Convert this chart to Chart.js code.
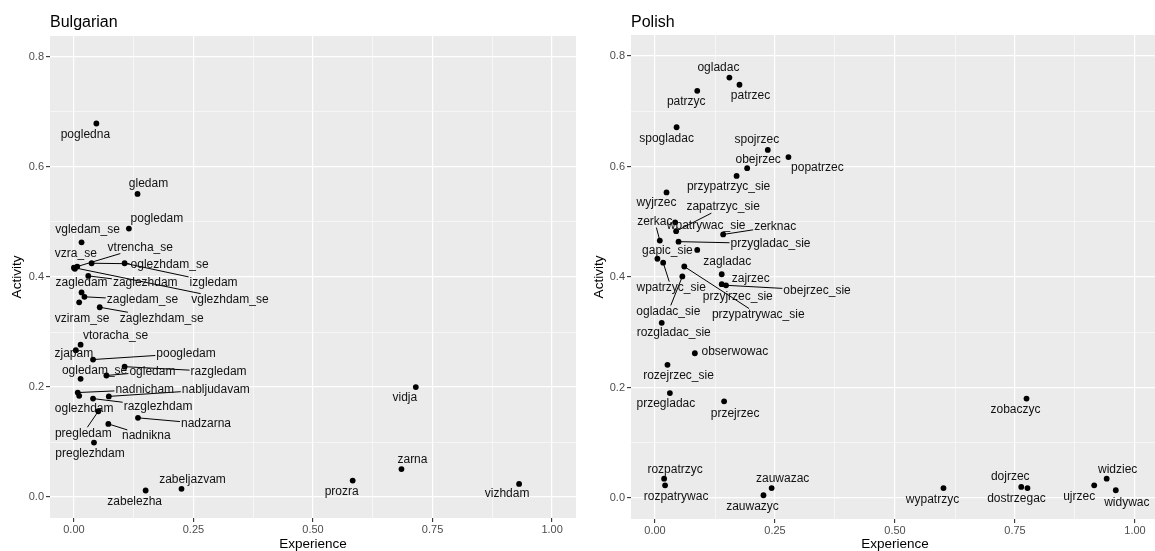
<!DOCTYPE html>
<html>
<head>
<meta charset="utf-8">
<script src="https://cdn.jsdelivr.net/npm/chart.js@4.4.1/dist/chart.umd.min.js"></script>
<style>
  html, body { margin: 0; padding: 0; background: #ffffff; overflow: hidden; width: 1155px; height: 551px; }
  canvas { position: absolute; top: 0; }
  #bgChart { left: 0; }
  #plChart { left: 582px; }
</style>
</head>
<body>
<canvas id="bgChart" width="580" height="551"></canvas>
<canvas id="plChart" width="580" height="551"></canvas>
<script>
// ---- axis ticks ----
const xTickValues = [0, 0.25, 0.5, 0.75, 1];
const xTickLabels = ['0.00', '0.25', '0.50', '0.75', '1.00'];
const yTickValues = [0, 0.2, 0.4, 0.6, 0.8];
const yTickLabels = ['0.0', '0.2', '0.4', '0.6', '0.8'];

// ---- Bulgarian verbs ----
const bulgarianVerbs = [
  'pogledna', 'gledam', 'pogledam', 'vgledam_se', 'vtrencha_se', 'vzra_se', 'vglezhdam_se',
  'oglezhdam_se', 'izgledam', 'zaglezhdam', 'zagledam', 'zagledam_se', 'vziram_se', 'zaglezhdam_se',
  'vtoracha_se', 'zjapam', 'poogledam', 'razgledam', 'ogledam', 'ogledam_se', 'nadnicham',
  'oglezhdam', 'nabljudavam', 'razglezhdam', 'pregledam', 'nadzarna', 'nadnikna', 'preglezhdam',
  'vidja', 'zarna', 'prozra', 'vizhdam', 'zabeljazvam', 'zabelezha'
];
const bulgarianExperience = [
  0.047, 0.133, 0.115, 0.016, 0.007, 0.002, 0.000,
  0.037, 0.106, 0.030, 0.016, 0.022, 0.011, 0.054,
  0.014, 0.004, 0.040, 0.106, 0.068, 0.014, 0.008,
  0.011, 0.073, 0.040, 0.051, 0.134, 0.072, 0.042,
  0.715, 0.685, 0.583, 0.931, 0.225, 0.150
];
const bulgarianActivity = [
  0.679, 0.551, 0.488, 0.463, 0.419, 0.415, 0.417,
  0.425, 0.425, 0.402, 0.372, 0.364, 0.354, 0.345,
  0.277, 0.267, 0.250, 0.237, 0.221, 0.215, 0.190,
  0.184, 0.183, 0.179, 0.156, 0.144, 0.133, 0.099,
  0.200, 0.051, 0.030, 0.024, 0.015, 0.012
];

// ---- Polish verbs ----
const polishVerbs = [
  'ogladac', 'patrzec', 'patrzyc', 'spogladac', 'spojrzec', 'popatrzec', 'obejrzec',
  'przypatrzyc_sie', 'wyjrzec', 'wpatrywac_sie', 'zapatrzyc_sie', 'zerkac', 'przygladac_sie',
  'zerknac', 'gapic_sie', 'zagladac', 'wpatrzyc_sie', 'przypatrywac_sie', 'ogladac_sie',
  'zajrzec', 'przyjrzec_sie', 'obejrzec_sie', 'rozgladac_sie', 'obserwowac', 'rozejrzec_sie',
  'przegladac', 'przejrzec', 'rozpatrzyc', 'rozpatrywac', 'zauwazac', 'zauwazyc',
  'zobaczyc', 'wypatrzyc', 'dojrzec', 'dostrzegac', 'ujrzec', 'widziec', 'widywac'
];
const polishExperience = [
  0.155, 0.176, 0.088, 0.045, 0.235, 0.278, 0.192,
  0.170, 0.024, 0.042, 0.044, 0.010, 0.049,
  0.142, 0.005, 0.088, 0.017, 0.061, 0.057,
  0.139, 0.139, 0.148, 0.014, 0.083, 0.026,
  0.031, 0.144, 0.019, 0.021, 0.243, 0.226,
  0.774, 0.601, 0.763, 0.776, 0.915, 0.941, 0.960
];
const polishActivity = [
  0.761, 0.748, 0.737, 0.671, 0.630, 0.617, 0.597,
  0.583, 0.553, 0.499, 0.483, 0.466, 0.464,
  0.477, 0.433, 0.449, 0.426, 0.419, 0.401,
  0.405, 0.387, 0.385, 0.317, 0.262, 0.241,
  0.190, 0.175, 0.035, 0.023, 0.018, 0.005,
  0.180, 0.018, 0.020, 0.018, 0.023, 0.035, 0.014
];

// ---- repelled label placement: pixel offset of each label centre from its point ----
const bulgarianLabelOffsets = {
  pogledna: [-11, 11], gledam: [11, -10], pogledam: [28, -10], vgledam_se: [6, -13],
  vtrencha_se: [63, -19], vzra_se: [1, -15], vglezhdam_se: [156, 32], oglezhdam_se: [78, 1],
  izgledam: [89, 19], zaglezhdam: [57, 7], zagledam: [0, -10], zagledam_se: [58, 3],
  vziram_se: [3, 16], zaglezhdam_se: [62, 11], vtoracha_se: [35, -9], zjapam: [-2, 4],
  poogledam: [93, -6], razgledam: [94, 5], ogledam: [46, -4], ogledam_se: [14, -8],
  nadnicham: [67, -3], oglezhdam: [5, 13], nabljudavam: [107, -7], razglezhdam: [65, 8],
  pregledam: [-15, 22], nadzarna: [68, 6], nadnikna: [38, 12], preglezhdam: [-4, 11],
  vidja: [-11, 11], zarna: [11, -9], prozra: [-11, 11], vizhdam: [-12, 10],
  zabeljazvam: [11, -9], zabelezha: [-11, 11]
};
const polishLabelOffsets = {
  ogladac: [-11, -10], patrzec: [11, 11], patrzyc: [-11, 11], spogladac: [-10, 11],
  spojrzec: [-11, -10], popatrzec: [29, 11], obejrzec: [11, -8], przypatrzyc_sie: [-8, 11],
  wyjrzec: [-10, 10], wpatrywac_sie: [31, 3], zapatrzyc_sie: [47, -24], zerkac: [-5, -19],
  przygladac_sie: [92, 2], zerknac: [52, -8], gapic_sie: [10, -8], zagladac: [30, 12],
  wpatrzyc_sie: [8, 25], przypatrywac_sie: [74, 48], ogladac_sie: [-14, 35], zajrzec: [29, 4],
  przyjrzec_sie: [16, 13], obejrzec_sie: [91, 5], rozgladac_sie: [12, 10], obserwowac: [40, -2],
  rozejrzec_sie: [11, 11], przegladac: [-4, 11], przejrzec: [11, 12], rozpatrzyc: [11, -9],
  rozpatrywac: [11, 11], zauwazac: [11, -9], zauwazyc: [-11, 11], zobaczyc: [-11, 11],
  wypatrzyc: [-11, 12], dojrzec: [-11, -10], dostrzegac: [-11, 11], ujrzec: [-15, 11],
  widziec: [11, -9], widywac: [11, 12]
};

const FONT = '"Liberation Sans", Arial, Helvetica, sans-serif';
Chart.defaults.font.family = FONT;

// major breaks plus the minor ones half-way between them
function withMinors(majors) {
  const out = [];
  majors.forEach((v, i) => {
    out.push(v);
    if (i < majors.length - 1) out.push((v + majors[i + 1]) / 2);
  });
  return out;
}
function majorIndex(value, majors) {
  return majors.findIndex(t => Math.abs(t - value) < 1e-9);
}

// grey panel, title, repelled labels with leader segments
const panelDecor = {
  id: 'panelDecor',
  beforeDraw(chart, args, opts) {
    const { ctx, chartArea: a } = chart;
    ctx.save();
    ctx.fillStyle = '#EBEBEB';
    ctx.fillRect(a.left, a.top, a.right - a.left, a.bottom - a.top);
    ctx.fillStyle = '#000000';
    ctx.font = '16px ' + FONT;
    ctx.textAlign = 'left';
    ctx.textBaseline = 'alphabetic';
    ctx.fillText(opts.title, a.left, 26.5);
    ctx.restore();
  },
  afterDatasetsDraw(chart, args, opts) {
    const { ctx } = chart;
    const meta = chart.getDatasetMeta(0);
    ctx.save();
    ctx.font = '12px ' + FONT;
    ctx.textAlign = 'center';
    ctx.textBaseline = 'middle';
    const items = opts.names.map((name, i) => {
      const el = meta.data[i];
      const [dx, dy] = opts.offsets[name] || [0, 10];
      return { name, px: el.x, py: el.y, dx, dy, hw: ctx.measureText(name).width / 2 + 1, hh: 6 };
    });
    // leader segments
    ctx.strokeStyle = '#000000';
    ctx.lineWidth = 1;
    items.forEach(it => {
      const gx = Math.max(0, Math.abs(it.dx) - it.hw);
      const gy = Math.max(0, Math.abs(it.dy) - it.hh);
      if (Math.hypot(gx, gy) > 10) {
        const t = Math.min(it.hw / Math.max(Math.abs(it.dx), 1e-9), it.hh / Math.max(Math.abs(it.dy), 1e-9));
        const ex = it.px + it.dx - it.dx * t;
        const ey = it.py + it.dy - it.dy * t;
        ctx.beginPath();
        ctx.moveTo(it.px, it.py);
        ctx.lineTo(ex, ey);
        ctx.stroke();
      }
    });
    // label text
    ctx.fillStyle = '#111111';
    items.forEach(it => ctx.fillText(it.name, it.px + it.dx, it.py + it.dy));
    ctx.restore();
  }
};

function makePanel(canvasId, title, names, xs, ys, offsets, geom) {
  const xGrid = withMinors(xTickValues);
  const yGrid = withMinors(yTickValues);
  const gridFor = majors => ({
    color: '#FFFFFF',
    lineWidth: c => (c.tick && majorIndex(c.tick.value, majors) >= 0) ? 1.2 : 0.55,
    drawTicks: true,
    tickLength: 4,
    tickWidth: 1.1,
    tickColor: c => (c.tick && majorIndex(c.tick.value, majors) >= 0) ? '#333333' : 'rgba(0,0,0,0)'
  });
  return new Chart(document.getElementById(canvasId), {
    type: 'scatter',
    data: {
      datasets: [{
        data: xs.map((x, i) => ({ x, y: ys[i] })),
        pointRadius: 2.9,
        pointHoverRadius: 2.9,
        pointBackgroundColor: '#000000',
        pointBorderWidth: 0,
        borderColor: '#000000'
      }]
    },
    options: {
      responsive: false,
      animation: false,
      events: [],
      layout: { padding: { top: geom.top, left: 0, right: geom.right, bottom: 0 } },
      plugins: {
        legend: { display: false },
        tooltip: { enabled: false },
        panelDecor: { title, names, offsets }
      },
      scales: {
        x: {
          type: 'linear',
          min: -0.05, max: 1.05,
          afterBuildTicks: s => { s.ticks = xGrid.map(v => ({ value: v })); },
          afterFit: s => { s.height = geom.xAxisHeight; },
          border: { display: false },
          grid: gridFor(xTickValues),
          ticks: {
            autoSkip: false, maxRotation: 0, padding: 2,
            color: '#4D4D4D',
            font: { size: 11, lineHeight: 1 },
            callback: v => { const k = majorIndex(v, xTickValues); return k >= 0 ? xTickLabels[k] : ''; }
          },
          title: {
            display: true, text: 'Experience', color: '#000000',
            font: { size: 13.5, lineHeight: 1 },
            padding: { top: 0, bottom: 0 }
          }
        },
        y: {
          type: 'linear',
          min: -0.038, max: 0.838,
          afterBuildTicks: s => { s.ticks = yGrid.map(v => ({ value: v })); },
          afterFit: s => { s.width = geom.yAxisWidth; },
          border: { display: false },
          grid: gridFor(yTickValues),
          ticks: {
            autoSkip: false, padding: 2,
            color: '#4D4D4D',
            font: { size: 11 },
            callback: v => { const k = majorIndex(v, yTickValues); return k >= 0 ? yTickLabels[k] : ''; }
          },
          title: {
            display: true, text: 'Activity', color: '#000000',
            font: { size: 13.5, lineHeight: 1 },
            padding: { top: 11, bottom: 0 }
          }
        }
      }
    },
    plugins: [panelDecor]
  });
}

makePanel('bgChart', 'Bulgarian', bulgarianVerbs, bulgarianExperience, bulgarianActivity,
  bulgarianLabelOffsets, { top: 36, right: 4, xAxisHeight: 33, yAxisWidth: 50 });
makePanel('plChart', 'Polish', polishVerbs, polishExperience, polishActivity,
  polishLabelOffsets, { top: 35, right: 3, xAxisHeight: 32, yAxisWidth: 49 });
</script>
</body>
</html>
